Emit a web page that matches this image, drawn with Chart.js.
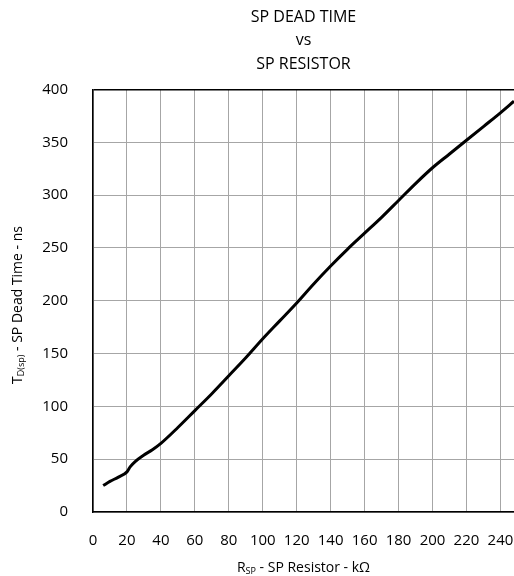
<!DOCTYPE html>
<html>
<head>
<meta charset="utf-8">
<script src="https://cdn.jsdelivr.net/npm/chart.js@4/dist/chart.umd.min.js"></script>
<style>
  html, body { margin: 0; padding: 0; background: #fff; }
  #wrap { width: 514px; height: 576px; position: relative; }
</style>
</head>
<body>
<div id="wrap"><canvas id="myChart"></canvas></div>
<script>
// values
const resistorKOhm = [6, 10, 15, 20, 22, 25, 30, 35, 40, 50, 60, 70, 80, 90, 100, 110, 120, 130, 140, 150, 160, 170, 180, 190, 200, 210, 220, 230, 240, 248];
const deadTimeNs = [25, 29, 33, 38, 43, 48, 54, 59, 65, 80, 96, 112, 129, 146, 164, 181, 198, 216, 233, 249, 264, 279, 295, 311, 326, 339, 352, 365, 378, 389];

const titleLines = ['SP DEAD TIME', 'vs', 'SP RESISTOR'];
const xTitleParts = [['R', false], ['SP', true], [' - SP Resistor - k\u03A9', false]];
const yTitleParts = [['T', false], ['D(sp)', true], [' - SP Dead Time - ns', false]];

const FONT = "'Open Sans', sans-serif";

// draws text with subscript pieces, centred on (0,0) of current transform
function drawSubText(ctx, parts, size) {
    const subSize = Math.round(size * 0.65);
    let total = 0;
    parts.forEach(p => {
        ctx.font = (p[1] ? subSize : size) + 'px ' + FONT;
        total += ctx.measureText(p[0]).width;
    });
    let x = -total / 2;
    ctx.textBaseline = 'alphabetic';
    ctx.textAlign = 'left';
    parts.forEach(p => {
        ctx.font = (p[1] ? subSize : size) + 'px ' + FONT;
        ctx.fillText(p[0], x, p[1] ? size * 0.38 + 2 : size * 0.38);
        x += ctx.measureText(p[0]).width;
    });
}

const axisTitles = {
    id: 'axisTitles',
    afterDraw(chart) {
        const ctx = chart.ctx;
        const a = chart.chartArea;
        ctx.save();
        ctx.fillStyle = '#000';
        ctx.translate((a.left + a.right) / 2, 567);
        drawSubText(ctx, xTitleParts, 14);
        ctx.restore();

        ctx.save();
        ctx.fillStyle = '#000';
        ctx.translate(17, 305);
        ctx.rotate(-Math.PI / 2);
        drawSubText(ctx, yTitleParts, 14);
        ctx.restore();
    }
};

const ctx = document.getElementById('myChart').getContext('2d');

const myChart = new Chart(ctx, {
    type: 'line',
    data: {
        datasets: [{
            data: resistorKOhm.map((r, i) => ({x: r, y: deadTimeNs[i]})),
            borderColor: '#000',
            borderWidth: 3,
            pointRadius: 0,
            fill: false,
            cubicInterpolationMode: 'monotone'
        }]
    },
    options: {
        responsive: true,
        maintainAspectRatio: false,
        animation: false,
        layout: { padding: 0 },
        plugins: {
            legend: { display: false },
            tooltip: { enabled: false },
            title: {
                display: true,
                fullSize: false,
                text: titleLines,
                color: '#000',
                font: { family: FONT, size: 16, weight: 'normal', lineHeight: 1.45 },
                padding: { top: 6, bottom: 14 }
            }
        },
        scales: {
            x: {
                type: 'linear',
                min: 0,
                max: 248,
                afterFit(scale) {
                    scale.height = 64;
                    scale.paddingRight = 0;
                    scale.paddingLeft = 0;
                },
                border: { color: '#000', width: 1.5 },
                grid: { color: '#a6a6a6', lineWidth: 1, drawTicks: false },
                ticks: {
                    stepSize: 20,
                    includeBounds: false,
                    maxRotation: 0,
                    autoSkip: false,
                    padding: 20,
                    color: '#000',
                    font: { family: FONT, size: 15 }
                }
            },
            y: {
                min: 0,
                max: 400,
                afterFit(scale) { scale.width = 93; },
                border: { color: '#000', width: 1.5 },
                grid: {
                    color: c => c.tick && c.tick.value === 400 ? '#000' : '#a6a6a6',
                    lineWidth: c => c.tick && c.tick.value === 400 ? 1.5 : 1,
                    drawTicks: false
                },
                ticks: {
                    stepSize: 50,
                    padding: 25,
                    color: '#000',
                    font: { family: FONT, size: 15 }
                }
            }
        }
    },
    plugins: [axisTitles]
});
</script>
</body>
</html>
